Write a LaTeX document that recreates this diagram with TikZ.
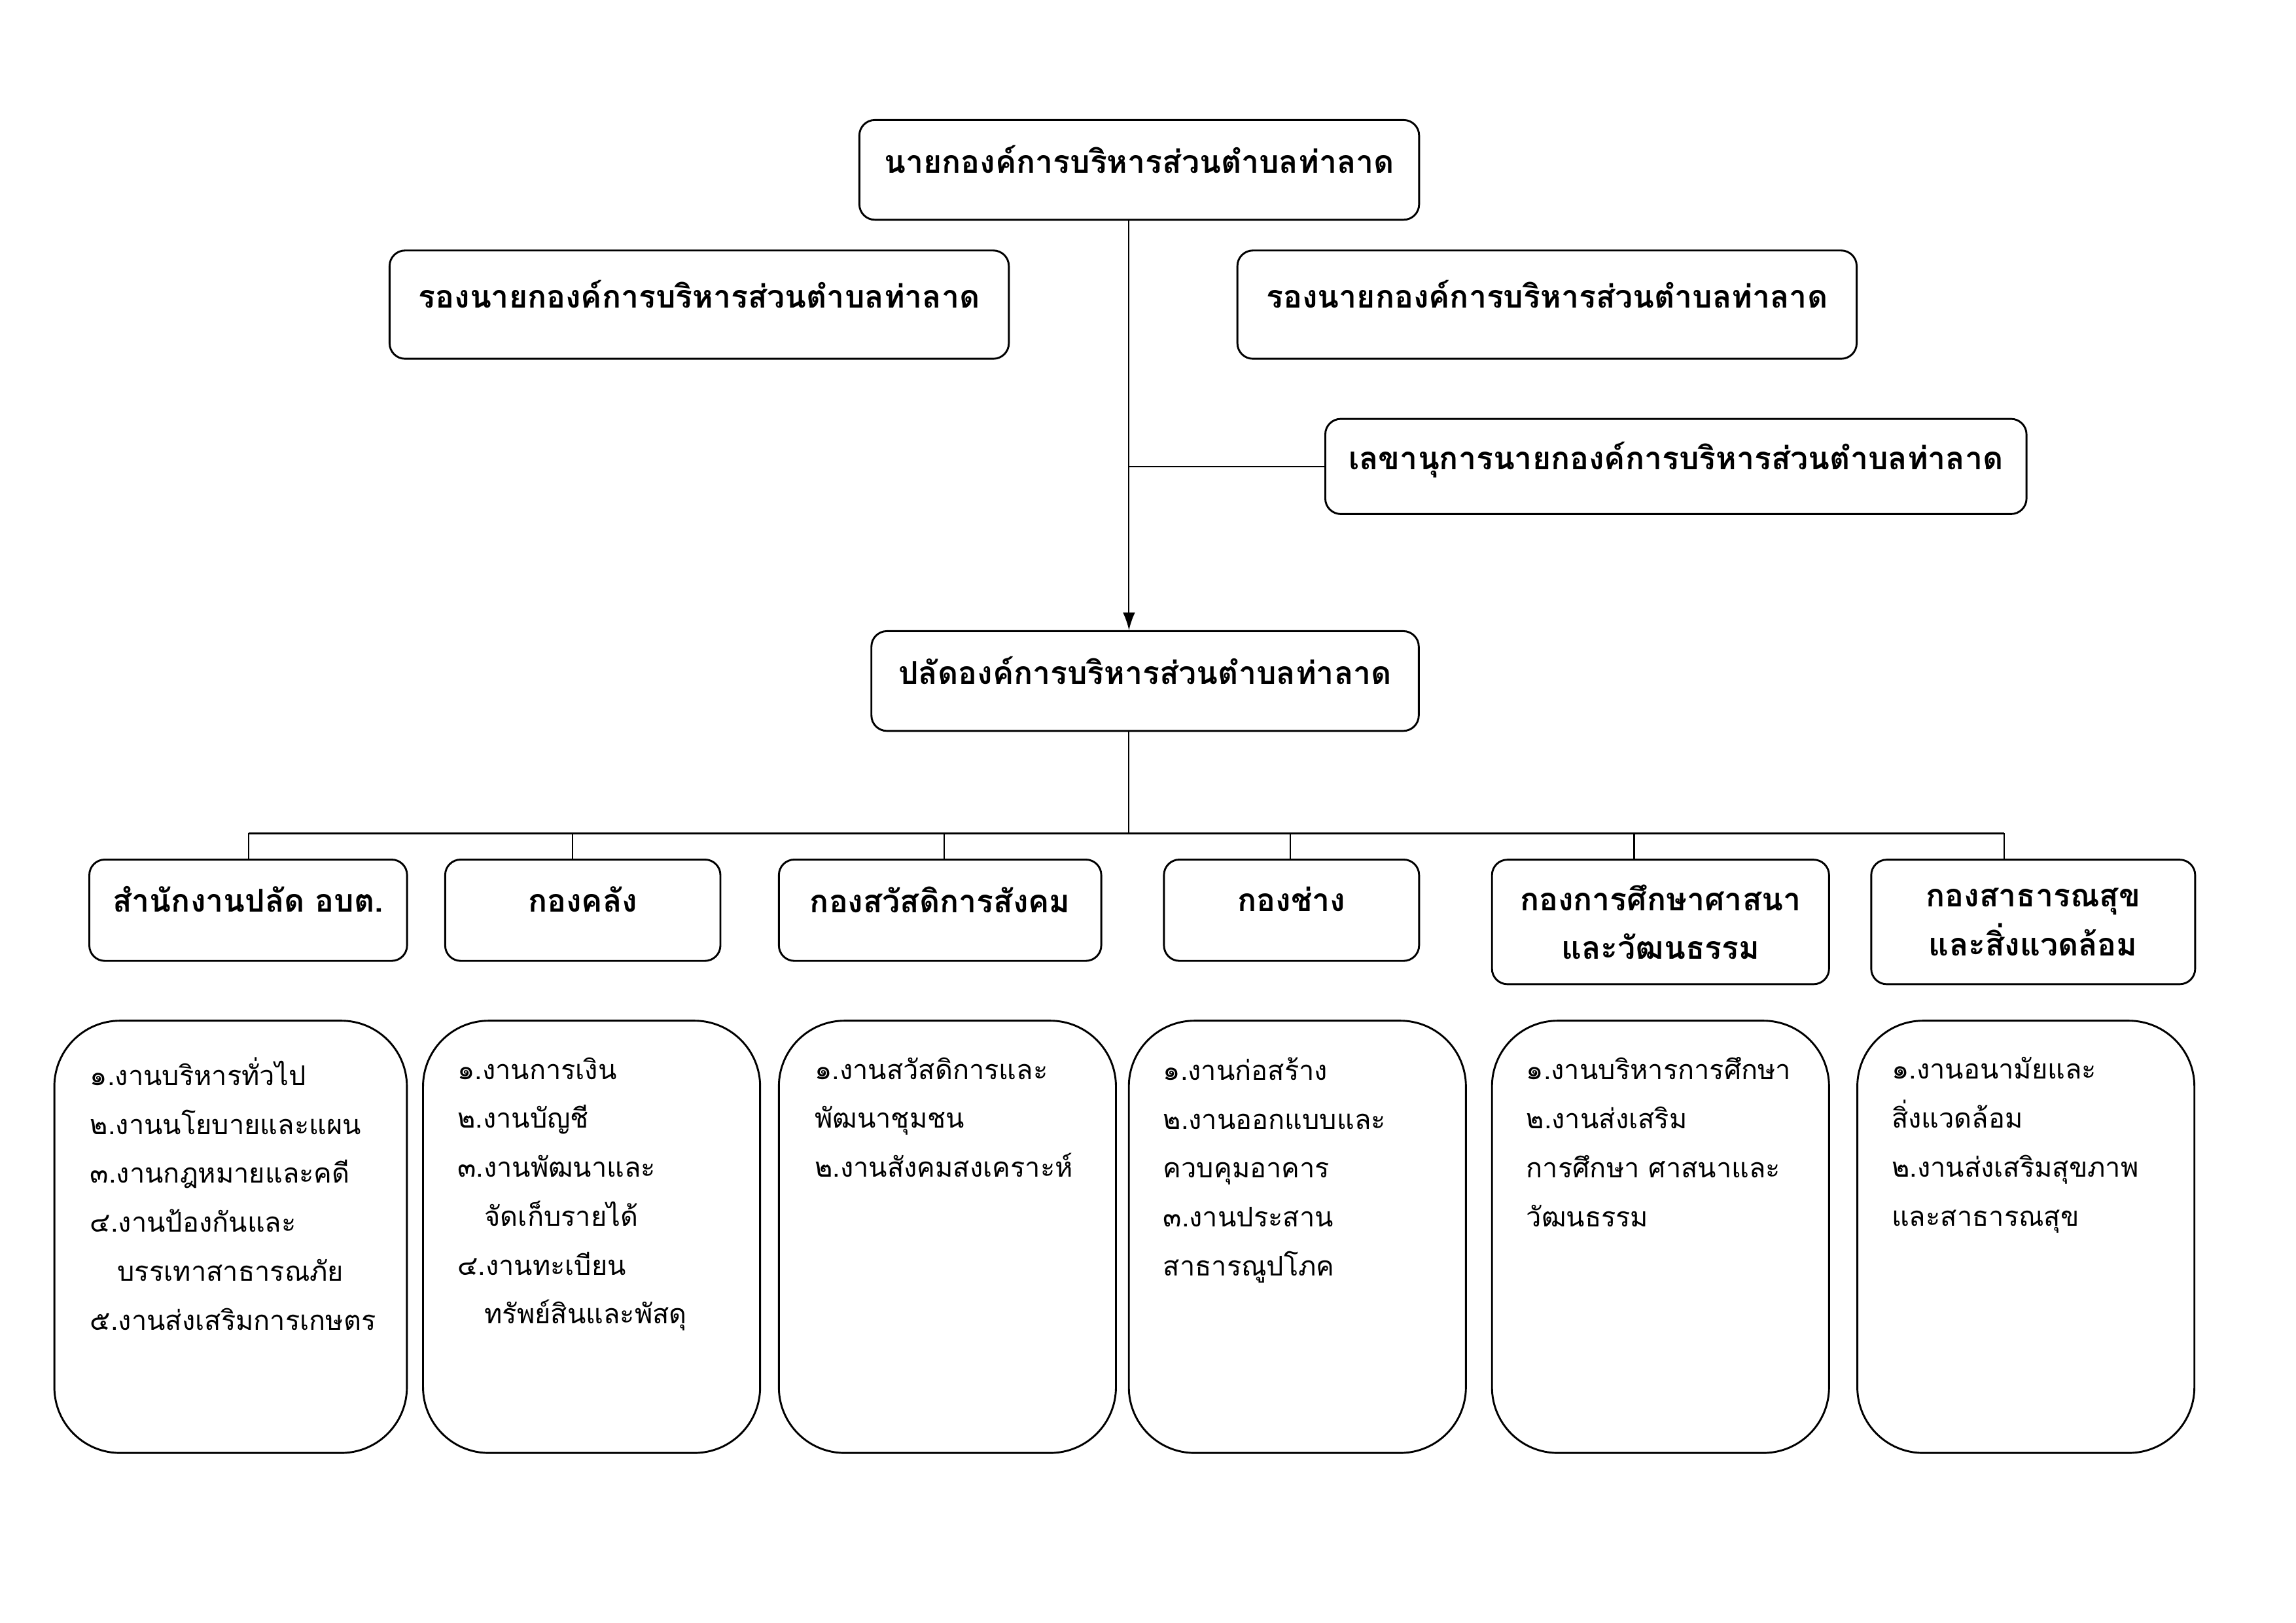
\documentclass[tikz,border=0pt]{standalone}
\usepackage{fontspec}
\newfontfamily\thaifont[Script=Thai]{Loma}
\usetikzlibrary{arrows.meta,positioning}
\tikzset{head box/.style={rectangle, draw, rounded corners=2mm, line width=0.7pt,
    font=\thaifont\bfseries\fontsize{11.6}{18}\selectfont, align=center}}
\tikzset{one line/.style={text depth=8pt}}
\tikzset{unit box/.style={head box, minimum height=13.1mm}}
\tikzset{job box/.style={rectangle, draw, rounded corners=8.5mm, line width=0.7pt,
    minimum width=43.6mm, minimum height=55.9mm}}
\tikzset{job list/.style={font=\thaifont\fontsize{10}{18}\selectfont, align=left, inner sep=0pt}}
\tikzset{link/.style={line width=0.5pt}}
\tikzset{bus line/.style={line width=0.9pt}}

\begin{document}
\begin{tikzpicture}[x=0.18941mm, y=-0.18941mm]
  \useasboundingbox (0,0) rectangle (1568,1108);

  % executives
  \node [head box, one line, minimum width=72.4mm, minimum height=12.9mm] (mayor)  at ( 778, 116) {นายกองค์การบริหารส่วนตำบลท่าลาด};
  \node [head box, one line, minimum width=80.1mm, minimum height=14.0mm] (deputy1) at ( 477.5, 208) {รองนายกองค์การบริหารส่วนตำบลท่าลาด};
  \node [head box, one line, minimum width=80.1mm, minimum height=14.0mm] (deputy2) at (1056.5, 208) {รองนายกองค์การบริหารส่วนตำบลท่าลาด};
  \node [head box, one line, minimum width=90.7mm, minimum height=12.3mm] (secretary) at (1144.5, 318.5) {เลขานุการนายกองค์การบริหารส่วนตำบลท่าลาด};
  \node [head box, one line, minimum width=70.8mm, minimum height=12.9mm] (palat)  at ( 782, 465) {ปลัดองค์การบริหารส่วนตำบลท่าลาด};

  % divisions
  \node [unit box, one line, minimum width=41.1mm] (d1) at ( 169.5, 621.5) {สำนักงานปลัด อบต.};
  \node [unit box, one line, minimum width=35.6mm] (d2) at ( 398,   621.5) {กองคลัง};
  \node [unit box, one line, minimum width=41.7mm] (d3) at ( 642,   621.5) {กองสวัสดิการสังคม};
  \node [unit box, one line, minimum width=33.0mm] (d4) at ( 882,   621.5) {กองช่าง};
  \node [unit box, minimum width=43.6mm, minimum height=16.1mm] (d5) at (1134, 629.5) {กองการศึกษาศาสนา\\และวัฒนธรรม};
  \node [unit box, minimum width=41.9mm, minimum height=16.1mm] (d6) at (1388.5, 629.5) {กองสาธารณสุข\\และสิ่งแวดล้อม};

  % job boxes
  \node [job box, minimum width=45.6mm] (j1) at ( 157.5, 844.5) {};
  \node [job box] (j2) at ( 404,   844.5) {};
  \node [job box] (j3) at ( 647,   844.5) {};
  \node [job box] (j4) at ( 886,   844.5) {};
  \node [job box] (j5) at (1134,   844.5) {};
  \node [job box] (j6) at (1383.5, 844.5) {};

  \node [job list, below right=4.8mm and 4.7mm of j1.north west] (l1)
    {๑.งานบริหารทั่วไป\\๒.งานนโยบายและแผน\\๓.งานกฎหมายและคดี\\๔.งานป้องกันและ\\\hspace{1em}บรรเทาสาธารณภัย\\๕.งานส่งเสริมการเกษตร};
  \node [job list, below right=4.8mm and 4.5mm of j2.north west] (l2)
    {๑.งานการเงิน\\๒.งานบัญชี\\๓.งานพัฒนาและ\\\hspace{1em}จัดเก็บรายได้\\๔.งานทะเบียน\\\hspace{1em}ทรัพย์สินและพัสดุ};
  \node [job list, below right=4.8mm and 4.7mm of j3.north west] (l3)
    {๑.งานสวัสดิการและ\\พัฒนาชุมชน\\๒.งานสังคมสงเคราะห์};
  \node [job list, below right=4.8mm and 4.5mm of j4.north west] (l4)
    {๑.งานก่อสร้าง\\๒.งานออกแบบและ\\ควบคุมอาคาร\\๓.งานประสาน\\สาธารณูปโภค};
  \node [job list, below right=4.8mm and 4.5mm of j5.north west] (l5)
    {๑.งานบริหารการศึกษา\\๒.งานส่งเสริม\\การศึกษา ศาสนาและ\\วัฒนธรรม};
  \node [job list, below right=4.8mm and 4.5mm of j6.north west] (l6)
    {๑.งานอนามัยและ\\สิ่งแวดล้อม\\๒.งานส่งเสริมสุขภาพ\\และสาธารณสุข};

  % connectors
  \coordinate (spine) at ([xshift=-7*0.18941mm]mayor.south);
  \coordinate (bus) at (771, 569);
  \draw [link, -{Latex[length=2.3mm, width=1.6mm]}] (spine) -- (spine |- palat.north);
  \draw [link] (secretary.west -| spine) -- (secretary.west);
  \draw [link] (palat.south -| spine) -- (spine |- bus);
  \draw [bus line] ([xshift=0.5*0.18941mm]d1.north |- bus) -- ([xshift=-20*0.18941mm]d6.north |- bus);
  \foreach \d/\dx in {d1/0.5, d2/-7, d3/3, d4/-1, d5/-18, d6/-20}
    \draw [link] ([xshift=\dx*0.18941mm]\d.north |- bus) -- ([xshift=\dx*0.18941mm]\d.north);
\end{tikzpicture}
\end{document}
